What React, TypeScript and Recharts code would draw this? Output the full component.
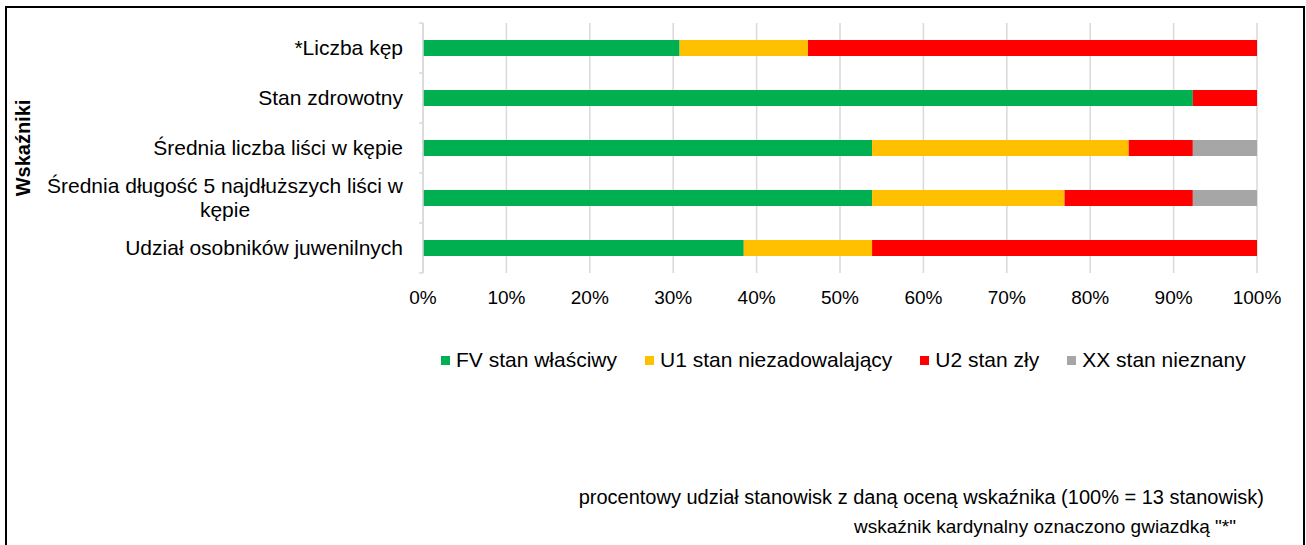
import { BarChart, Bar, XAxis, YAxis, CartesianGrid } from 'recharts';

// counts of 13 stations per rating; chart shows shares (stackOffset expand)
const CATEGORIES = [
  '*Liczba kęp',
  'Stan zdrowotny',
  'Średnia liczba liści w kępie',
  'Średnia długość 5 najdłuższych liści w kępie',
  'Udział osobników juwenilnych',
];
const FV = [4, 12, 7, 7, 5];
const U1 = [2, 0, 4, 3, 2];
const U2 = [7, 1, 1, 2, 6];
const XX = [0, 0, 1, 1, 0];

const X_TICKS = [0, 0.1, 0.2, 0.3, 0.4, 0.5, 0.6, 0.7, 0.8, 0.9, 1];

const SERIES = [
  { key: 'fv', name: 'FV stan właściwy', color: '#00B050' },
  { key: 'u1', name: 'U1 stan niezadowalający', color: '#FFC000' },
  { key: 'u2', name: 'U2 stan zły', color: '#FF0000' },
  { key: 'xx', name: 'XX stan nieznany', color: '#A6A6A6' },
];

const FONT = '"Liberation Sans", Arial, sans-serif';

const data = CATEGORIES.map((name, i) => ({
  name,
  fv: FV[i],
  u1: U1[i],
  u2: U2[i],
  xx: XX[i],
}));

let ctx: CanvasRenderingContext2D | null = null;
function textWidth(s: string, size: number) {
  if (!ctx) ctx = document.createElement('canvas').getContext('2d');
  if (!ctx) return s.length * size * 0.5;
  ctx.font = `${size}px ${FONT}`;
  return ctx.measureText(s).width;
}

function splitLabel(label: string, maxW: number, size: number) {
  if (textWidth(label, size) <= maxW) return [label];
  const words = label.split(' ');
  let first = '';
  let i = 0;
  for (; i < words.length; i++) {
    const next = first ? first + ' ' + words[i] : words[i];
    if (textWidth(next, size) > maxW) break;
    first = next;
  }
  return [first, words.slice(i).join(' ')];
}

function CategoryTick(props: any) {
  const { x, y, payload } = props;
  const half = payload.offset || 25;
  const size = 21;
  const lines = splitLabel(payload.value, 370, size);
  const isLast = payload.value === CATEGORIES[CATEGORIES.length - 1];
  return (
    <g>
      <line x1={x + 16} x2={x + 20} y1={y - half} y2={y - half} stroke="#d9d9d9" strokeWidth={1.5} />
      {isLast && (
        <line x1={x + 16} x2={x + 20} y1={y + half} y2={y + half} stroke="#d9d9d9" strokeWidth={1.5} />
      )}
      {lines.length === 1 ? (
        <text x={x} y={y} dy="0.35em" textAnchor="end" fontSize={size} fontFamily={FONT} fill="#000">
          {lines[0]}
        </text>
      ) : (
        <>
          <text x={x} y={y - 12} dy="0.35em" textAnchor="end" fontSize={size} fontFamily={FONT} fill="#000">
            {lines[0]}
          </text>
          <text
            x={x - textWidth(lines[0], size) / 2}
            y={y + 12}
            dy="0.35em"
            textAnchor="middle"
            fontSize={size}
            fontFamily={FONT}
            fill="#000"
          >
            {lines[1]}
          </text>
        </>
      )}
    </g>
  );
}

export default function App() {
  return (
    <div style={{ position: 'absolute', left: 0, top: 0, width: 1306, height: 545, overflow: 'hidden', background: '#fff', fontFamily: FONT }}>
      <div
        style={{
          position: 'absolute',
          left: 5,
          top: 6,
          width: 1296,
          height: 600,
          border: '2px solid #000',
        }}
      />
      <div style={{ position: 'absolute', left: 0, top: 0 }}>
        <BarChart
          width={1306}
          height={320}
          data={data}
          layout="vertical"
          stackOffset="expand"
          barSize={16}
          margin={{ top: 23, right: 49, bottom: 17, left: 0 }}
        >
          <CartesianGrid horizontal={false} stroke="#d9d9d9" strokeWidth={1.5} />
          <XAxis
            type="number"
            domain={[0, 1]}
            ticks={X_TICKS}
            tickFormatter={(v: number) => `${Math.round(v * 100)}%`}
            axisLine={false}
            tickLine={false}
            tickSize={0}
            tickMargin={18}
            height={30}
            interval={0}
            tick={{ fontSize: 19, fontFamily: FONT, fill: '#000' }}
          />
          <YAxis
            type="category"
            dataKey="name"
            width={423}
            axisLine={{ stroke: '#d9d9d9', strokeWidth: 1.5 }}
            tickLine={false}
            tickSize={0}
            tickMargin={20}
            interval={0}
            tick={<CategoryTick />}
            label={{
              content: () => (
                <text
                  x={23}
                  y={148}
                  transform="rotate(-90 23 148)"
                  textAnchor="middle"
                  dominantBaseline="central"
                  fontSize={20}
                  fontWeight="bold"
                  fontFamily={FONT}
                  fill="#000"
                >
                  Wskaźniki
                </text>
              ),
            }}
          />
          {SERIES.map((s) => (
            <Bar key={s.key} dataKey={s.key} name={s.name} stackId="a" fill={s.color} isAnimationActive={false} />
          ))}
        </BarChart>
      </div>
      <div
        style={{
          position: 'absolute',
          left: 441,
          top: 347,
          display: 'flex',
          gap: 28,
          alignItems: 'center',
          fontSize: 21,
          lineHeight: '26px',
          color: '#000',
          whiteSpace: 'nowrap',
        }}
      >
        {SERIES.map((s) => (
          <div key={s.key} style={{ display: 'flex', alignItems: 'center' }}>
            <span style={{ width: 9, height: 9, background: s.color, marginRight: 6, display: 'inline-block' }} />
            <span>{s.name}</span>
          </div>
        ))}
      </div>
      <div style={{ position: 'absolute', right: 42, top: 485, fontSize: 20, lineHeight: '24px', color: '#000', whiteSpace: 'nowrap' }}>
        procentowy udział stanowisk z daną oceną wskaźnika (100% = 13 stanowisk)
      </div>
      <div style={{ position: 'absolute', right: 70, top: 515, fontSize: 19, lineHeight: '24px', color: '#000', whiteSpace: 'nowrap' }}>
        wskaźnik kardynalny oznaczono gwiazdką "*"
      </div>
    </div>
  );
}
